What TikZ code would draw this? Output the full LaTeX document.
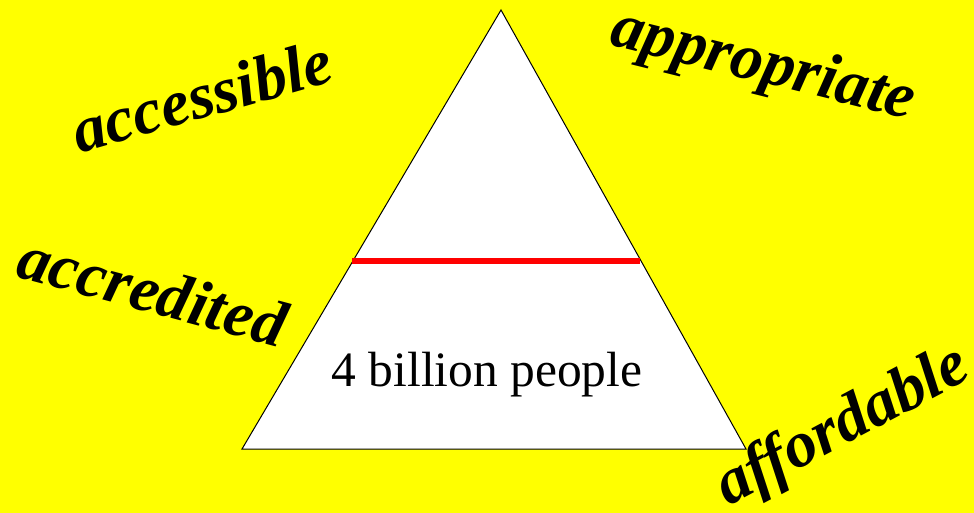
\documentclass[tikz,border=0pt]{standalone}
\usepackage{fontspec}
\setmainfont{Liberation Serif}
\usepackage{xcolor}
\usepackage{tikz}
\usetikzlibrary{positioning}
\definecolor{bgyellow}{RGB}{255,255,0}
\definecolor{cutred}{RGB}{255,0,0}

\begin{document}
\begin{tikzpicture}[x=1pt,y=-1pt]
  \tikzstyle{word}=[anchor=base,inner sep=0pt,font=\fontsize{65}{78}\selectfont\bfseries\itshape]
  \tikzstyle{pyramid}=[draw=black,line width=1pt,fill=white]

  % Background
  \fill [bgyellow] (0,0) rectangle (974,513);
  \useasboundingbox (0,0) rectangle (974,513);

  % Pyramid
  \coordinate (apex) at (501,10);
  \coordinate (baseL) at (242,449);
  \coordinate (baseR) at (746,449);
  \coordinate (cutL) at (352,261);
  \coordinate (cutR) at (640,261);
  \draw [pyramid] (apex) -- (baseL) -- (baseR) -- cycle;
  \draw [cutred,line width=6pt] (cutL) -- (cutR);
  \node [anchor=base,inner sep=0pt,font=\fontsize{49.5}{60}\selectfont] (people) at (487,386) {4 billion people};

  % Words
  \node [word,rotate=16] (accessible) at (208,117) {accessible};
  \node [word,rotate=-14] (appropriate) at (759,82) {appropriate};
  \node [word,rotate=-15] (accredited) at (147,312) {accredited};
  \node [word,rotate=28] (affordable) at (851,442) {affordable};
\end{tikzpicture}
\end{document}
